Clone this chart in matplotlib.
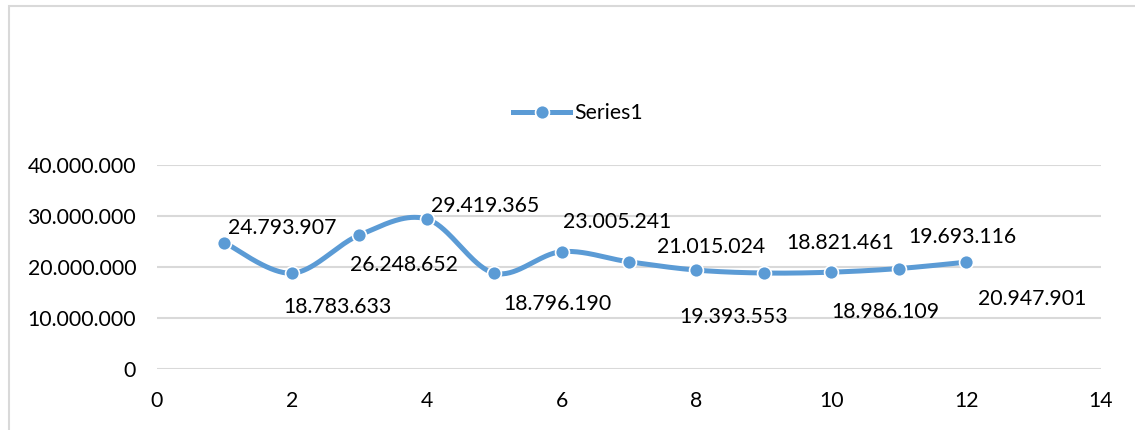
import numpy as np
import matplotlib
matplotlib.use("Agg")
import matplotlib.pyplot as plt
from matplotlib.patches import Rectangle
from matplotlib.lines import Line2D

# ---- data ----
x_vals = [1, 2, 3, 4, 5, 6, 7, 8, 9, 10, 11, 12]
y_vals = [24793907, 18783633, 26248652, 29419365, 18796190, 23005241,
          21015024, 19393553, 18821461, 18986109, 19693116, 20947901]
series_name = "Series1"
y_ticks = [0, 10000000, 20000000, 30000000, 40000000]
x_ticks = [0, 2, 4, 6, 8, 10, 12, 14]

# label offsets (pixels) – purely layout
label_offsets = [(58, -15), (46, 34), (45, 30), (58, -13), (63, 31), (56, -30),
                 (82, -15), (37, 47), (76, -30), (54, 40), (64, -32), (66, 37)]

COLOR = "#5B9BD5"
FONT = "Lato"
FS = 15.3

def fmt(v):
    return f"{int(round(v)):,}".replace(",", ".")

def catmull_rom(xs, ys, n=40):
    P = np.column_stack([xs, ys]).astype(float)
    out = []
    m = len(P)
    for i in range(m - 1):
        p0 = P[i - 1] if i > 0 else P[i]
        p1 = P[i]
        p2 = P[i + 1]
        p3 = P[i + 2] if i + 2 < m else P[i + 1]
        c1 = p1 + (p2 - p0) / 6.0
        c2 = p2 - (p3 - p1) / 6.0
        t = np.linspace(0, 1, n)[:, None]
        seg = ((1 - t) ** 3) * p1 + 3 * ((1 - t) ** 2) * t * c1 + 3 * (1 - t) * t ** 2 * c2 + t ** 3 * p2
        out.append(seg if i == 0 else seg[1:])
    S = np.vstack(out)
    return S[:, 0], S[:, 1]

W, H = 1135, 430
fig = plt.figure(figsize=(W / 100, H / 100), dpi=100)
fig.patch.set_facecolor("white")

# outer chart border
fig.patches.append(Rectangle((9 / W, -0.1), 1.2, 1 - 6 / H + 0.1, transform=fig.transFigure,
                             fill=False, edgecolor="#D9D9D9", linewidth=1.5, zorder=0))

ax = fig.add_axes([157 / W, 1 - 369 / H, (1101 - 157) / W, (369 - 165) / H])
ax.set_xlim(0, 14)
ax.set_ylim(0, 40000000)
ax.set_xticks(x_ticks)
ax.set_yticks(y_ticks)
ax.set_xticklabels([str(t) for t in x_ticks], fontfamily=FONT, fontsize=FS)
ax.set_yticklabels([fmt(t) for t in y_ticks], fontfamily=FONT, fontsize=FS)
ax.tick_params(length=0, colors="#000000")
ax.tick_params(axis="y", pad=15)
ax.tick_params(axis="x", pad=16)
for s in ax.spines.values():
    s.set_visible(False)
ax.grid(axis="y", color="#D9D9D9", linewidth=1.5)
ax.set_axisbelow(True)

sx, sy = catmull_rom(x_vals, y_vals)
ax.plot(sx, sy, color=COLOR, linewidth=3.6, solid_capstyle="round", zorder=3)
ax.plot(x_vals, y_vals, linestyle="none", marker="o", markersize=10,
        markerfacecolor=COLOR, markeredgecolor="white", markeredgewidth=1.2, zorder=4)

for xv, yv, (dx, dy) in zip(x_vals, y_vals, label_offsets):
    ax.annotate(fmt(yv), (xv, yv), xytext=(dx, -dy), textcoords="offset pixels",
                ha="center", va="center", fontfamily=FONT, fontsize=FS, color="#000000",
                zorder=5)

handle = Line2D([], [], color=COLOR, linewidth=3.6, marker="o", markersize=10,
                markerfacecolor=COLOR, markeredgecolor="white", markeredgewidth=1.2)
fig.legend([handle], [series_name], loc="center", bbox_to_anchor=(578 / W, 1 - 113 / H),
           frameon=False, prop={"family": FONT, "size": FS}, handlelength=2.7,
           handletextpad=0.2)

fig.savefig("out.png", dpi=100)
